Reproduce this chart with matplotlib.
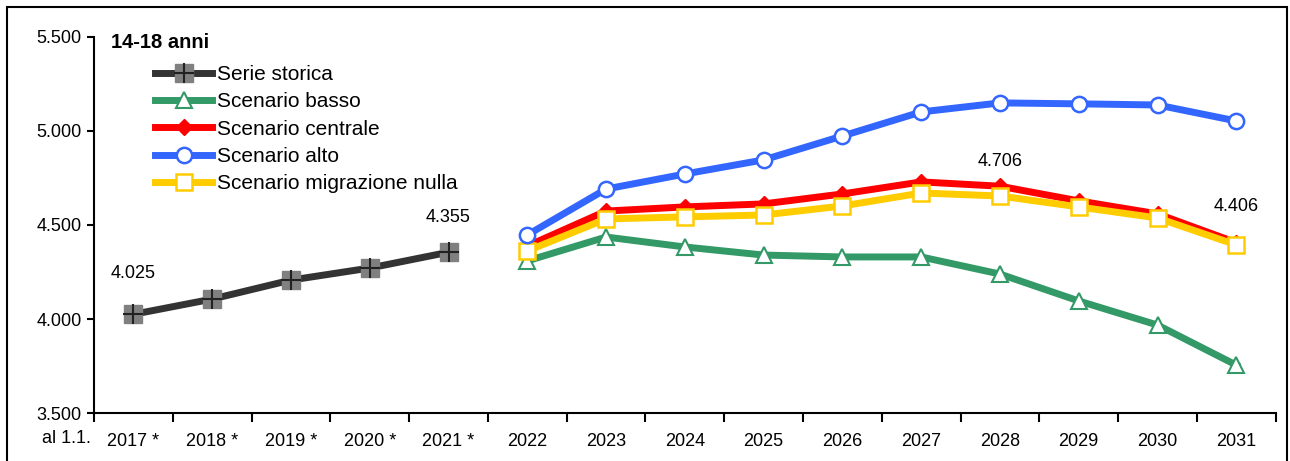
import matplotlib.pyplot as plt
import matplotlib.patches as patches
import numpy as np

plt.rcParams['font.family'] = ['Liberation Sans', 'DejaVu Sans']

categories = ['2017 *', '2018 *', '2019 *', '2020 *', '2021 *', '2022', '2023', '2024',
              '2025', '2026', '2027', '2028', '2029', '2030', '2031']
storica = [4025, 4106, 4207, 4271, 4355]
basso = [4309, 4436, 4383, 4340, 4330, 4330, 4239, 4096, 3968, 3755]
centrale = [4388, 4574, 4596, 4612, 4665, 4729, 4706, 4628, 4559, 4406]
alto = [4447, 4691, 4771, 4846, 4973, 5101, 5149, 5144, 5138, 5053]
migr_nulla = [4362, 4532, 4543, 4553, 4601, 4670, 4654, 4596, 4537, 4394]

x = np.arange(len(categories))
x_hist = x[:5]
x_scen = x[5:]

fig = plt.figure(figsize=(12.9, 4.61), dpi=100)
ax = fig.add_axes([0.0729, 0.104, 0.916, 0.816])

# outer frame
fig.patches.append(patches.Rectangle((0.0054, -0.01), 0.9922, 0.995, transform=fig.transFigure,
                                     fill=False, edgecolor='black', linewidth=1.5))

lw = 5
h1, = ax.plot(x_hist, storica, color='#333333', lw=lw, marker='s', ms=12.5,
              mfc='#808080', mec='#808080', zorder=3)
h1b, = ax.plot(x_hist, storica, ls='none', marker='+', ms=14, mew=1.5, color='#222222', zorder=4)
h2, = ax.plot(x_scen, basso, color='#339966', lw=lw, marker='^', ms=11,
              mfc='white', mec='#339966', mew=1.5, zorder=3)
h3, = ax.plot(x_scen, centrale, color='#ff0000', lw=lw, marker='D', ms=8,
              mfc='#ff0000', mec='#ff0000', zorder=4)
h5, = ax.plot(x_scen, migr_nulla, color='#ffcc00', lw=lw, marker='s', ms=12,
              mfc='white', mec='#ffcc00', mew=1.8, zorder=5)
h4, = ax.plot(x_scen, alto, color='#3366ff', lw=lw, marker='o', ms=11,
              mfc='white', mec='#3366ff', mew=1.8, zorder=6)

# value labels
fs = 13
ax.text(x[0], storica[0] + 218, '4.025', ha='center', va='center', fontsize=fs)
ax.text(x[4], storica[4] + 186, '4.355', ha='center', va='center', fontsize=fs)
ax.text(x[11], centrale[6] + 133, '4.706', ha='center', va='center', fontsize=fs)
ax.text(x[14], centrale[9] + 190, '4.406', ha='center', va='center', fontsize=fs)

ax.set_xlim(-0.5, len(categories) - 0.5)
ax.set_ylim(3500, 5500)
ax.set_yticks([3500, 4000, 4500, 5000, 5500])
ax.set_yticklabels(['3.500', '4.000', '4.500', '5.000', '5.500'], fontsize=fs)
ax.set_xticks(x)
ax.set_xticklabels(categories, fontsize=fs)
ax.set_xticks(np.arange(-0.5, len(categories)), minor=True)
ax.tick_params(axis='x', which='major', length=0, pad=14)
ax.tick_params(axis='x', which='minor', length=6.5, width=1.5, direction='out')
ax.tick_params(axis='y', length=5, width=1.5, direction='out', pad=4)
for s in ['top', 'right']:
    ax.spines[s].set_visible(False)
for s in ['left', 'bottom']:
    ax.spines[s].set_linewidth(1.5)

ax.text(-0.003, -0.067, 'al 1.1.', transform=ax.transAxes, ha='right', va='center', fontsize=fs)
ax.text(0.014, 0.985, '14-18 anni', transform=ax.transAxes, ha='left', va='center',
        fontsize=14.5, fontweight='bold')

leg = ax.legend([(h1, h1b), h2, h3, h4, h5],
                ['Serie storica', 'Scenario basso', 'Scenario centrale', 'Scenario alto',
                 'Scenario migrazione nulla'],
                loc='upper left', bbox_to_anchor=(0.0517, 0.925), frameon=False,
                fontsize=15, handlelength=2.75, handletextpad=0.2, labelspacing=0.4,
                borderaxespad=0, borderpad=0)

fig.savefig('out.png', dpi=100)
